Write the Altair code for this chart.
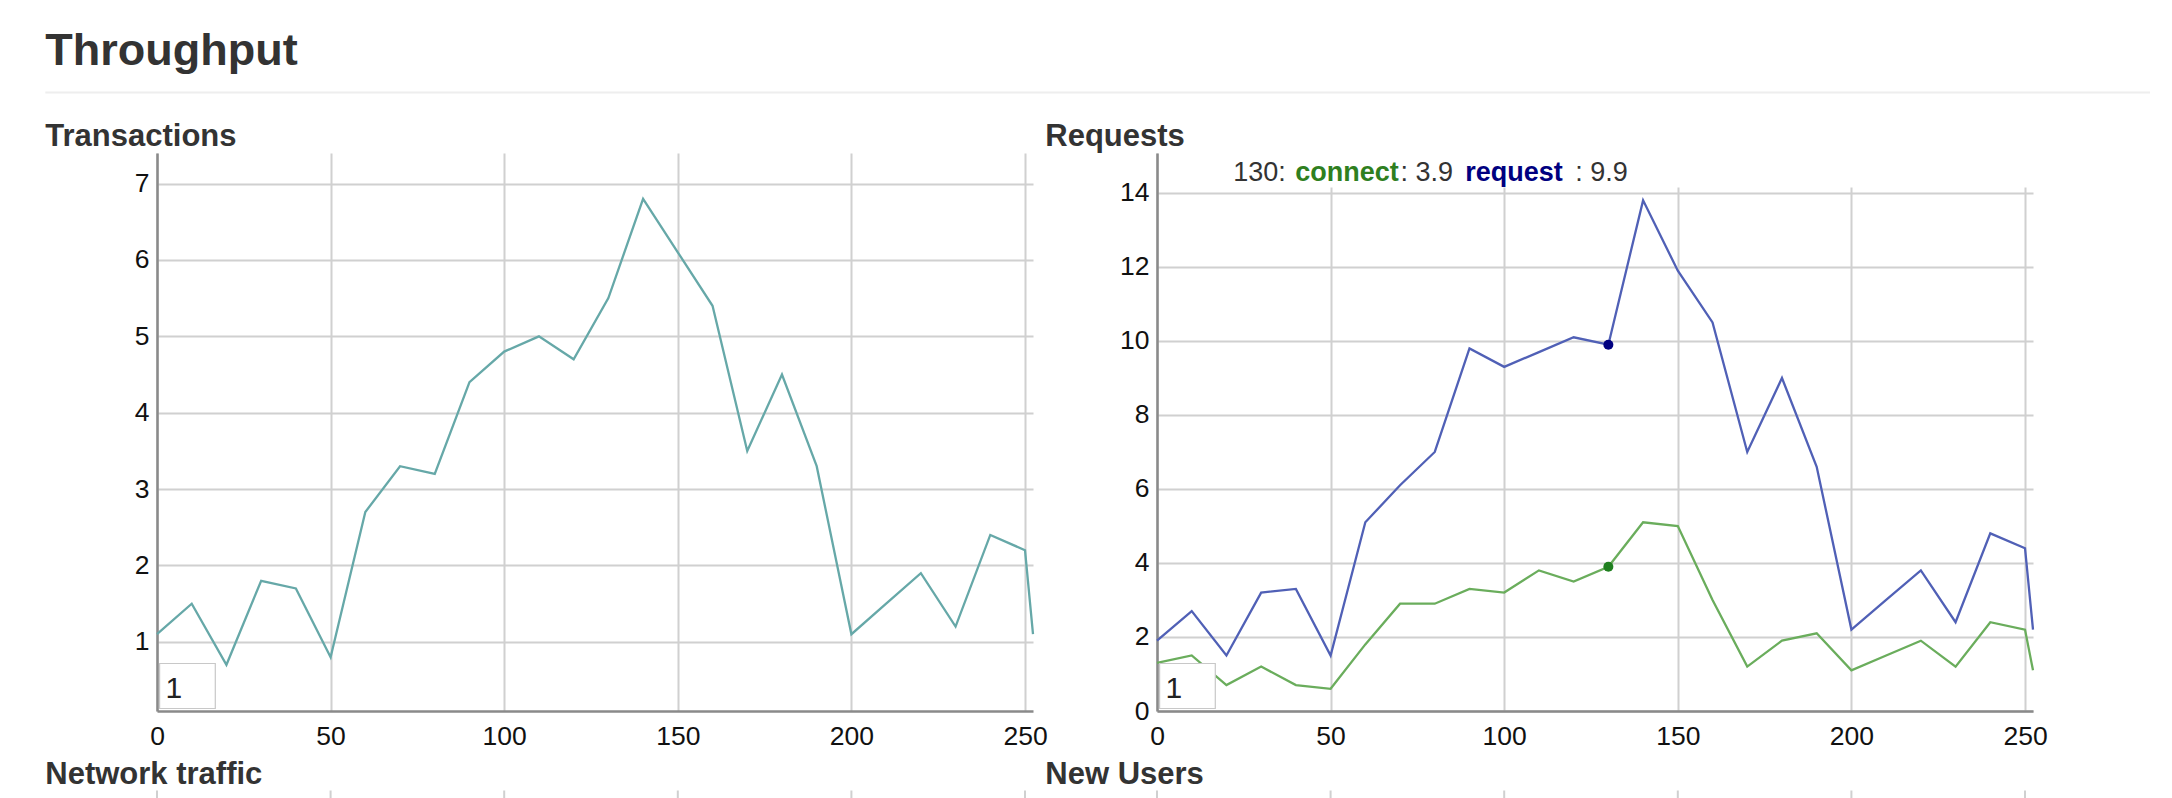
import altair as alt
import pandas as pd

# ---------------- data ----------------
x_vals = [0, 10, 20, 30, 40, 50, 60, 70, 80, 90, 100, 110, 120, 130, 140, 150,
          160, 170, 180, 190, 200, 210, 220, 230, 240, 250, 252.3]
transactions = [1.1, 1.5, 0.7, 1.8, 1.7, 0.8, 2.7, 3.3, 3.2, 4.4, 4.8, 5.0, 4.7, 5.5,
                6.8, 6.1, 5.4, 3.5, 4.5, 3.3, 1.1, 1.5, 1.9, 1.2, 2.4, 2.2, 1.1]
connect = [1.3, 1.5, 0.7, 1.2, 0.7, 0.6, 1.8, 2.9, 2.9, 3.3, 3.2, 3.8, 3.5, 3.9,
           5.1, 5.0, 3.0, 1.2, 1.9, 2.1, 1.1, 1.5, 1.9, 1.2, 2.4, 2.2, 1.1]
request = [1.9, 2.7, 1.5, 3.2, 3.3, 1.5, 5.1, 6.1, 7.0, 9.8, 9.3, 9.7, 10.1, 9.9,
           13.8, 11.9, 10.5, 7.0, 9.0, 6.6, 2.2, 3.0, 3.8, 2.4, 4.8, 4.4, 2.2]
series_names = ["connect", "request"]
x_ticks = [0, 50, 100, 150, 200, 250]
trans_ticks = [1, 2, 3, 4, 5, 6, 7]
req_ticks = [0, 2, 4, 6, 8, 10, 12, 14]
highlight_index = 13
roll_period = ["1"]
page_title = ["Throughput"]
panel_titles = ["Transactions", "Requests"]
next_titles = ["Network traffic", "New Users"]

# ---------------- styles ----------------
FONT = "Liberation Sans"
W, H = 876, 558
TEXT = "#333333"
GRID = "#d0d0d0"
TEAL = "#66a8a8"
GREEN_LINE = "#6aad5c"
BLUE_LINE = "#5060b6"
GREEN_DOT = "#1f7f1f"
NAVY_DOT = "#000080"
GREEN_TXT = "#2f7f1f"
NAVY_TXT = "#000080"

x_scale = alt.Scale(domain=[x_vals[0], x_vals[-1]], nice=False, zero=False)
x_enc = alt.X("x:Q", scale=x_scale, title=None, axis=alt.Axis(values=x_ticks))


def text_layer(txt, x, y, size, weight="normal", color=TEXT):
    return alt.Chart(pd.DataFrame({"t": [txt]})).mark_text(
        align="left", baseline="alphabetic", font=FONT, fontSize=size,
        fontWeight=weight, color=color
    ).encode(x=alt.value(x), y=alt.value(y), text="t:N")


def roll_box():
    box = alt.Chart(pd.DataFrame({"t": roll_period})).mark_rect(
        fill="white", stroke="#c8c8c8", strokeWidth=1.2
    ).encode(x=alt.value(2.6), x2=alt.value(58.3), y=alt.value(510.5), y2=alt.value(555.5))
    txt = text_layer(roll_period[0], 8.5, 545, 30, color="#222222")
    return [box, txt]


def stubs():
    return alt.Chart(pd.DataFrame({"x": x_ticks})).mark_rule(
        color=GRID, strokeWidth=2
    ).encode(x=x_enc, y=alt.value(H + 79.5), y2=alt.value(H + 88))


# ---------------- left panel ----------------
df_t = pd.DataFrame({"x": x_vals, "value": transactions})

anchor = alt.Chart(pd.DataFrame({"a": [0]})).mark_rect(opacity=0).encode(
    x=alt.value(-148.7), x2=alt.value(-147.2), y=alt.value(-144.5), y2=alt.value(-143))

sep_rule = alt.Chart(pd.DataFrame({"a": [0]})).mark_rule(
    color="#eeeeee", strokeWidth=2
).encode(x=alt.value(-111.7), x2=alt.value(1993), y=alt.value(-60.5))

y_left = alt.Y("value:Q", title=None,
               scale=alt.Scale(domain=[0.095, 7.40], nice=False, zero=False),
               axis=alt.Axis(values=trans_ticks))

left_line = alt.Chart(df_t).mark_line(color=TEAL, strokeWidth=2.3).encode(
    x=x_enc, y=y_left)

left = alt.layer(
    anchor,
    text_layer(page_title[0], -111.7, -88.5, 45, "bold"),
    sep_rule,
    text_layer(panel_titles[0], -111.7, -7.5, 31, "bold"),
    left_line,
    *roll_box(),
    text_layer(next_titles[0], -111.7, H + 72.5, 31, "bold"),
    stubs(),
).properties(width=W, height=H)

# ---------------- right panel ----------------
n = len(x_vals)
df_r = pd.DataFrame({
    "x": x_vals * 2,
    "value": connect + request,
    "series": ["connect"] * n + ["request"] * n,
})
df_dot = pd.DataFrame({
    "x": [x_vals[highlight_index]] * 2,
    "value": [connect[highlight_index], request[highlight_index]],
    "series": series_names,
})

y_right = alt.Y("value:Q", title=None,
                scale=alt.Scale(domain=[0, 15.08], nice=False, zero=False),
                axis=alt.Axis(values=req_ticks))

legend_bg = alt.Chart(pd.DataFrame({"a": [0]})).mark_rect(fill="white").encode(
    x=alt.value(2), x2=alt.value(W), y=alt.value(0), y2=alt.value(34.5))

right_lines = alt.Chart(df_r).mark_line(strokeWidth=2.3).encode(
    x=x_enc,
    y=y_right,
    color=alt.Color("series:N", legend=None,
                    scale=alt.Scale(domain=series_names, range=[GREEN_LINE, BLUE_LINE])),
)

dots = alt.Chart(df_dot).mark_circle(size=100, opacity=1).encode(
    x=x_enc,
    y=y_right,
    fill=alt.Fill("series:N", legend=None,
                  scale=alt.Scale(domain=series_names, range=[GREEN_DOT, NAVY_DOT])),
)

sx = x_vals[highlight_index]
legend_layers = [
    text_layer(f"{sx}: ", 76.3, 28, 27),
    text_layer(series_names[0], 138.3, 28, 27, "bold", GREEN_TXT),
    text_layer(f": {connect[highlight_index]}", 243.5, 28, 27),
    text_layer(series_names[1], 308.3, 28, 27, "bold", NAVY_TXT),
    text_layer(f": {request[highlight_index]}", 418.3, 28, 27),
]

right = alt.layer(
    text_layer(panel_titles[1], -111.7, -7.5, 31, "bold"),
    legend_bg,
    right_lines,
    dots,
    *legend_layers,
    *roll_box(),
    text_layer(next_titles[1], -111.7, H + 72.5, 31, "bold"),
    stubs(),
).properties(width=W, height=H)

chart = alt.hconcat(left, right, spacing=124, bounds="flush", padding=0).configure_view(
    stroke=None
).configure_axis(
    labelFont=FONT, labelFontSize=26.5, labelColor="#111111",
    domainColor="#8a8a8a", domainWidth=2.5,
    gridColor=GRID, gridWidth=2,
    ticks=False, tickSize=0, labelFlush=False, labelOverlap=False,
).configure_axisX(labelPadding=12).configure_axisY(labelPadding=8)

chart.save("out.html", embed_options={"renderer": "svg", "actions": False})
